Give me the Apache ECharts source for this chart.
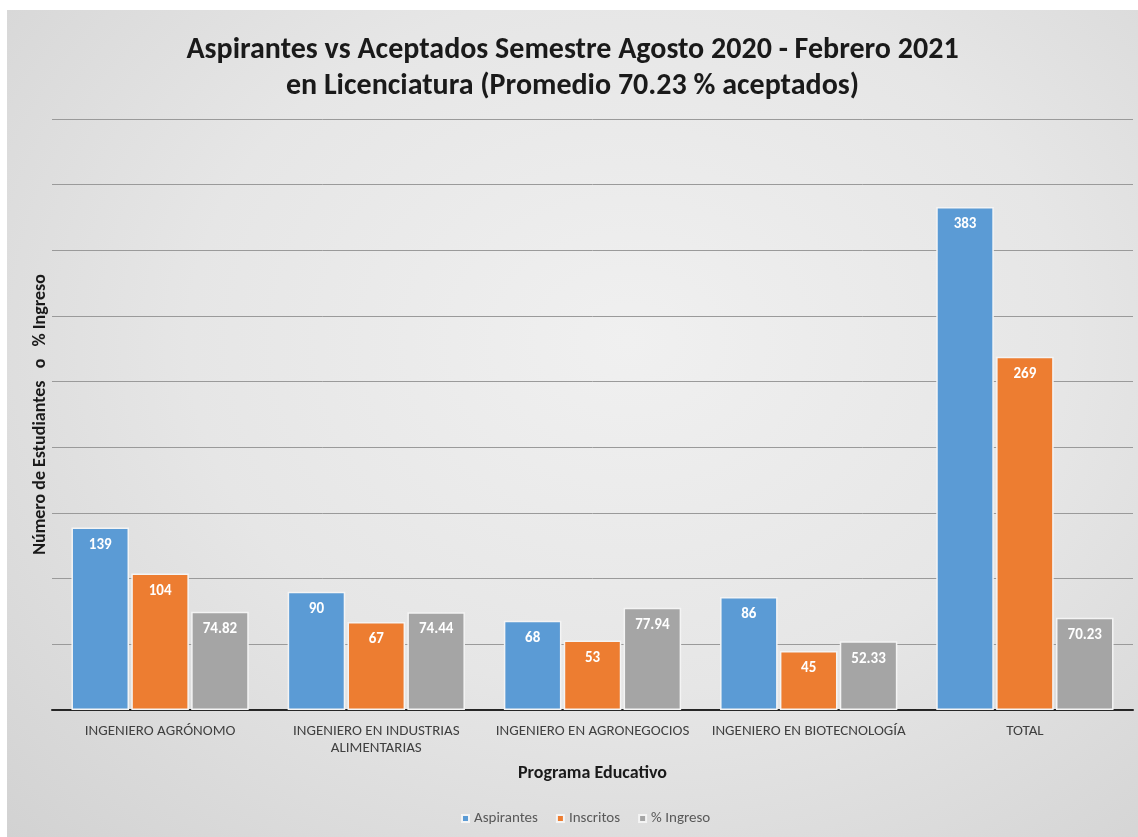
<!DOCTYPE html>
<html>
<head>
<meta charset="utf-8">
<script src="https://cdn.jsdelivr.net/npm/echarts@6/dist/echarts.min.js"></script>
<style>
  html, body { margin: 0; padding: 0; background: #ffffff; }
  #chart {
    position: absolute; left: 7px; top: 10px; width: 1131px; height: 827px;
    background: radial-gradient(ellipse at 55% 40%, #f0f0f0 0%, #e6e6e6 50%, #d2d2d2 100%);
  }
</style>
</head>
<body>
<div id="chart"></div>
<script>
  // datos
  var programas = ['INGENIERO AGRÓNOMO', 'INGENIERO EN INDUSTRIAS\nALIMENTARIAS', 'INGENIERO EN AGRONEGOCIOS', 'INGENIERO EN BIOTECNOLOGÍA', 'TOTAL'];
  var aspirantes = [139, 90, 68, 86, 383];
  var inscritos = [104, 67, 53, 45, 269];
  var ingreso = [74.82, 74.44, 77.94, 52.33, 70.23];

  var fuente = "Carlito, 'Liberation Sans Narrow', 'Open Sans', sans-serif";

  function barLabel() {
    return {
      show: true,
      position: 'insideTop',
      distance: 10,
      color: '#ffffff',
      fontWeight: 'bold',
      fontSize: 15,
      fontFamily: fuente
    };
  }

  var myChart = echarts.init(document.getElementById('chart'));
  var option = {
    title: {
      text: 'Aspirantes vs Aceptados Semestre Agosto 2020 - Febrero 2021\nen Licenciatura (Promedio 70.23 % aceptados)',
      left: 'center',
      top: 17,
      textStyle: {
        fontFamily: fuente,
        fontWeight: 'bold',
        fontSize: 30,
        lineHeight: 36,
        color: '#1a1a1a'
      }
    },
    legend: {
      bottom: 6,
      left: 449,
      itemWidth: 7,
      itemHeight: 7,
      itemGap: 18,
      icon: 'rect',
      textStyle: { fontFamily: fuente, fontSize: 15, color: '#595959' },
      data: ['Aspirantes', 'Inscritos', '% Ingreso']
    },
    grid: { left: 45, right: 5, top: 109, bottom: 127 },
    xAxis: {
      type: 'category',
      data: programas,
      name: 'Programa Educativo',
      nameLocation: 'middle',
      nameGap: 54,
      nameTextStyle: { fontFamily: fuente, fontWeight: 'bold', fontSize: 18, color: '#1a1a1a' },
      axisTick: { show: false },
      axisLine: { lineStyle: { color: '#262626', width: 2 } },
      axisLabel: { fontFamily: fuente, fontSize: 15, color: '#404040', margin: 13, interval: 0, lineHeight: 17 }
    },
    yAxis: {
      type: 'value',
      min: 0,
      max: 450,
      interval: 50,
      name: 'Número de Estudiantes   o   % Ingreso',
      nameLocation: 'middle',
      nameGap: 3,
      nameTextStyle: { fontFamily: fuente, fontWeight: 'bold', fontSize: 18, color: '#1a1a1a' },
      axisLabel: { show: false },
      axisLine: { show: false },
      axisTick: { show: false },
      splitLine: { lineStyle: { color: '#9a9a9a', width: 1 } }
    },
    series: [
      {
        name: 'Aspirantes', type: 'bar', data: aspirantes,
        barGap: '4%', barCategoryGap: '18%',
        itemStyle: { color: '#5b9bd5', borderColor: '#f4f4f4', borderWidth: 1.5 },
        label: barLabel()
      },
      {
        name: 'Inscritos', type: 'bar', data: inscritos,
        itemStyle: { color: '#ed7d31', borderColor: '#f4f4f4', borderWidth: 1.5 },
        label: barLabel()
      },
      {
        name: '% Ingreso', type: 'bar', data: ingreso,
        itemStyle: { color: '#a5a5a5', borderColor: '#f4f4f4', borderWidth: 1.5 },
        label: barLabel()
      }
    ]
  };
  myChart.setOption(option);
</script>
</body>
</html>
